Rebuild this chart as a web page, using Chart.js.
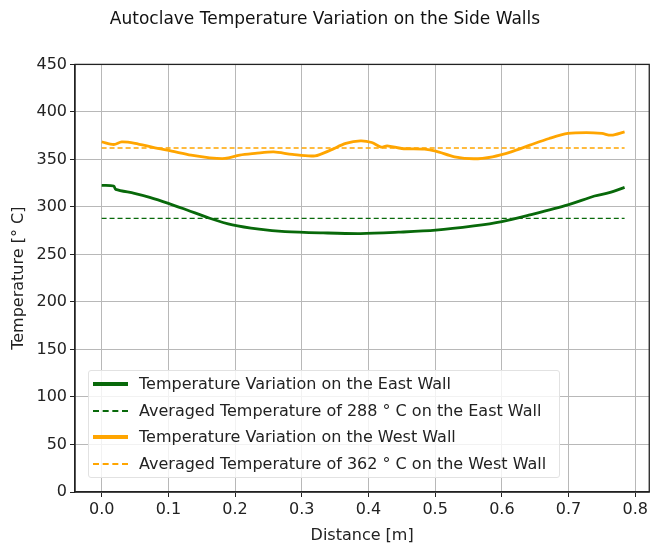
<!DOCTYPE html>
<html>
<head>
<meta charset="utf-8">
<script src="https://cdn.jsdelivr.net/npm/chart.js@4"></script>
<style>
  html, body { margin: 0; padding: 0; background: #fff; }
  #wrap { position: relative; width: 651px; height: 545px; }
  #legend {
    position: absolute; left: 88px; top: 370px; width: 472px; height: 108px;
    background: rgba(255,255,255,0.82); border: 1px solid #e2e2e2; border-radius: 3px;
    font-family: 'DejaVu Sans', sans-serif; font-size: 16px; color: #222;
    box-sizing: border-box;
  }
  .row { position: absolute; left: 0; height: 20px; line-height: 20px; white-space: nowrap; }
  .row .sw { position: absolute; left: 4px; top: 10px; width: 35px; height: 0; }
  .row span { position: absolute; left: 50px; top: 0; }
</style>
</head>
<body>
<div id="wrap">
  <canvas id="c" width="651" height="545"></canvas>
  <div id="legend"></div>
</div>
<script>
// ─── 데이터 ─────────────────────────────────────────────
const xEast = [0, 0.018, 0.021, 0.049, 0.072, 0.1, 0.128, 0.162, 0.196, 0.236, 0.275,
               0.332, 0.388, 0.445, 0.501, 0.558, 0.6, 0.642, 0.699, 0.739, 0.761, 0.784];
const tEast = [322.7, 322, 318.5, 314.3, 310.1, 303.8, 296.8, 288.1, 281.1, 276.6, 274.1,
               272.7, 272, 273.4, 275.5, 280, 284.6, 291.6, 302.1, 311.5, 315, 320.6];

const xWest = [0, 0.018, 0.03, 0.05, 0.077, 0.105, 0.134, 0.162, 0.185, 0.207, 0.23, 0.258,
               0.286, 0.32, 0.343, 0.366, 0.388, 0.405, 0.419, 0.428, 0.45, 0.484, 0.501,
               0.529, 0.558, 0.586, 0.614, 0.642, 0.671, 0.699, 0.727, 0.75, 0.764, 0.784];
const tWest = [368.5, 365.7, 368.5, 367, 362.6, 358.7, 354.5, 351.7, 351, 354.5, 356.3, 358,
               355.2, 353.8, 359.8, 366.8, 369.6, 367.8, 362.9, 364.3, 361.5, 360.8, 358.7,
               352.8, 350.7, 352.8, 358, 365, 372, 377.3, 378.3, 377.3, 375.5, 379];

const avgX = [0, 0.784];
const avgEast = [288, 288];
const avgWest = [362, 362];

const yTicks = [0, 50, 100, 150, 200, 250, 300, 350, 400, 450];

const labels = [
  'Temperature Variation on the East Wall',
  'Averaged Temperature of 288 ° C on the East Wall',
  'Temperature Variation on the West Wall',
  'Averaged Temperature of 362 ° C on the West Wall'
];

const GREEN = '#08690a';
const ORANGE = '#ffa500';
const FONT = "'DejaVu Sans', sans-serif";

const pts = (xs, ys) => xs.map((x, i) => ({ x, y: ys[i] }));

function ds(label, data, color, width, dash) {
  return {
    label, data,
    borderColor: color,
    backgroundColor: color,
    borderWidth: width,
    borderDash: dash || [],
    pointRadius: 0,
    tension: 0.3,
    fill: false
  };
}

new Chart(document.getElementById('c'), {
  type: 'line',
  data: {
    datasets: [
      ds(labels[0], pts(xEast, tEast), GREEN, 2.8),
      ds(labels[1], pts(avgX, avgEast), GREEN, 1.4, [5, 3]),
      ds(labels[2], pts(xWest, tWest), ORANGE, 2.8),
      ds(labels[3], pts(avgX, avgWest), ORANGE, 1.4, [5, 3])
    ]
  },
  options: {
    responsive: false,
    animation: false,
    layout: { padding: { left: 0, right: 1, top: 0, bottom: 0 } },
    plugins: {
      legend: { display: false },
      tooltip: { enabled: false },
      title: {
        display: true,
        text: 'Autoclave Temperature Variation on the Side Walls',
        color: '#111',
        font: { family: FONT, size: 17, weight: 'normal' },
        padding: { top: 9, bottom: 35 }
      }
    },
    scales: {
      x: {
        type: 'linear',
        min: -0.04, max: 0.821,
        afterFit: (s) => { s.height = 53; },
        ticks: {
          stepSize: 0.1, includeBounds: false,
          color: '#222', font: { family: FONT, size: 16 }, padding: 3,
          callback: (v) => v.toFixed(1)
        },
        grid: { color: '#b8b8b8', lineWidth: 1, tickColor: '#222', tickLength: 5 },
        border: { color: '#222', width: 1.3 },
        title: {
          display: true, text: 'Distance [m]', color: '#222',
          font: { family: FONT, size: 16 }, padding: { top: 0, bottom: 0 }
        }
      },
      y: {
        min: 0, max: 450,
        afterFit: (s) => { s.width = 75; },
        afterBuildTicks: (s) => { s.ticks = yTicks.map(v => ({ value: v })); },
        ticks: { color: '#222', font: { family: FONT, size: 16 }, padding: 3 },
        grid: { color: '#b8b8b8', lineWidth: 1, tickColor: '#222', tickLength: 5 },
        border: { color: '#222', width: 1.3 },
        title: {
          display: true, text: 'Temperature [° C]', color: '#222',
          font: { family: FONT, size: 16 }, padding: { top: 9, bottom: 0 }
        }
      }
    }
  },
  plugins: [{
    id: 'frame',
    afterDraw(chart) {
      const { ctx, chartArea: a } = chart;
      ctx.save();
      ctx.strokeStyle = '#222';
      ctx.lineWidth = 1.3;
      ctx.strokeRect(a.left, a.top, a.right - a.left, a.bottom - a.top);
      ctx.restore();
    }
  }]
});

// ─── 범례 (HTML) ─────────────────────────────────────────
const legendStyles = [
  { color: GREEN, width: 4, dash: false },
  { color: GREEN, width: 2, dash: true },
  { color: ORANGE, width: 4, dash: false },
  { color: ORANGE, width: 2, dash: true }
];
const legendEl = document.getElementById('legend');
labels.forEach((t, i) => {
  const st = legendStyles[i];
  const row = document.createElement('div');
  row.className = 'row';
  row.style.top = (3 + i * 26.7) + 'px';
  const sw = document.createElement('div');
  sw.className = 'sw';
  sw.style.borderTop = st.width + 'px ' + (st.dash ? 'dashed ' : 'solid ') + st.color;
  sw.style.marginTop = (-st.width / 2) + 'px';
  const span = document.createElement('span');
  span.textContent = t;
  row.appendChild(sw);
  row.appendChild(span);
  legendEl.appendChild(row);
});
</script>
</body>
</html>
